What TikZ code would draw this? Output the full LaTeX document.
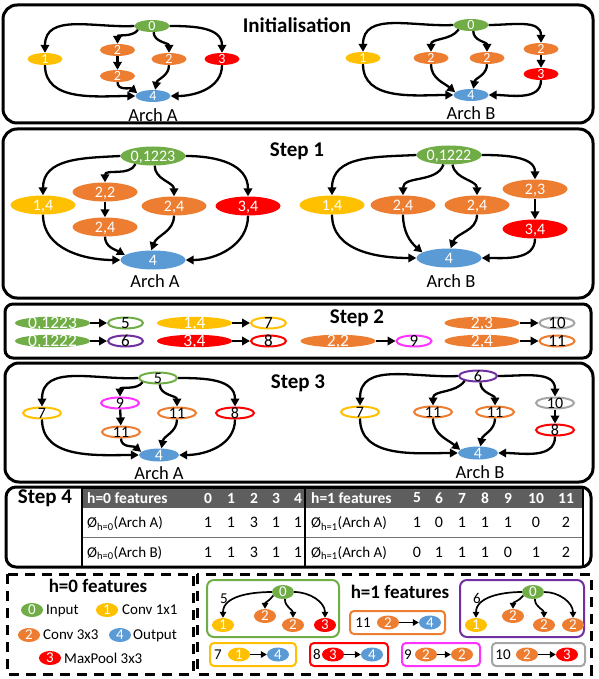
\documentclass[tikz,border=0pt]{standalone}
\usepackage{fontspec}
\setmainfont{Carlito}
\usetikzlibrary{shapes.geometric,arrows.meta}
\newcommand{\myfs}[1]{\fontsize{#1}{#1}\selectfont}
\definecolor{cg}{HTML}{70AD47}
\definecolor{cy}{HTML}{FFC000}
\definecolor{co}{HTML}{ED7D31}
\definecolor{cr}{HTML}{FF0000}
\definecolor{cb}{HTML}{5B9BD5}
\definecolor{cp}{HTML}{7030A0}
\definecolor{cm}{HTML}{FF33FF}
\definecolor{cgr}{HTML}{A5A5A5}
\definecolor{chd}{HTML}{5E5E5E}
\begin{document}
\begin{tikzpicture}[x=1pt,y=1pt,
  panel/.style={draw=black,line width=3pt,rounded corners=14pt},
  title/.style={font=\myfs{21}\bfseries,inner sep=0pt},
  arch/.style={font=\myfs{18.5},inner sep=0pt},
  ar/.style={line width=2.3pt,-{Triangle[length=8pt,width=8.5pt]}},
  sar/.style={line width=1.7pt,-{Triangle[length=6pt,width=6.5pt]}},
  wl/.style={text=white,inner sep=0pt,text depth=0pt},
  bl/.style={text=black,inner sep=0pt,text depth=0pt},
  ini/.style 2 args={ellipse,inner sep=0pt,minimum width=35pt,minimum height=12pt,fill=#1,label={[wl,font=\myfs{14}]center:#2}},
  sa/.style 2 args={ellipse,inner sep=0pt,minimum width=65pt,minimum height=19pt,fill=#1,label={[wl,font=\myfs{16}]center:#2}},
  sbf/.style 2 args={ellipse,inner sep=0pt,minimum width=75pt,minimum height=12.5pt,fill=#1,label={[wl,font=\myfs{17.5}]center:#2}},
  sbo/.style 2 args={ellipse,inner sep=0pt,minimum width=35pt,minimum height=11pt,draw=#1,line width=2pt,fill=white,label={[bl,font=\myfs{17}]center:#2}},
  sco/.style 2 args={ellipse,inner sep=0pt,minimum width=38pt,minimum height=11pt,draw=#1,line width=2pt,fill=white,label={[bl,font=\myfs{16}]center:#2}},
  scf/.style 2 args={ellipse,inner sep=0pt,minimum width=40pt,minimum height=13pt,fill=#1,label={[wl,font=\myfs{16}]center:#2}},
  lg/.style 2 args={ellipse,inner sep=0pt,minimum width=22pt,minimum height=14pt,fill=#1,label={[wl,font=\myfs{15}]center:#2}},
  lt/.style={font=\myfs{15},inner sep=0pt,anchor=west,text depth=0pt},
  num/.style={font=\myfs{15},inner sep=0pt},
  th/.style={font=\myfs{15.5}\bfseries,text=white,inner sep=0pt},
  td/.style={font=\myfs{16},inner sep=0pt},
  tl/.style={font=\myfs{15},inner sep=0pt,anchor=west,text depth=0pt},
  dbox/.style={line width=3pt,dash pattern=on 10pt off 7pt},
  sbox/.style={draw=#1,line width=2pt,rounded corners=4pt}
]
\useasboundingbox (0,0) rectangle (598,-679);

% ---------------- Initialisation ----------------
\draw[panel] (3,-5) rectangle (593,-123);
\node[title] (t0) at (297,-25) {Initialisation};
\node[ini={cg}{0}] (a0) at (152,-26) {};
\node[ini={cy}{1}] (a1) at (45,-59) {};
\node[ini={co}{2}] (a2a) at (117.5,-50) {};
\node[ini={co}{2}] (a2b) at (117.5,-76) {};
\node[ini={co}{2}] (a2c) at (169,-59) {};
\node[ini={cr}{3}] (a3) at (222,-59) {};
\node[ini={cb}{4}] (a4) at (153,-96) {};
\node[arch] (aA) at (153,-115) {Arch A};
\draw[ar] (a0.west) to[out=183,in=90,looseness=1.1] (a1.north);
\draw[ar] (a0.195) to[out=235,in=90] (a2a.north);
\draw[ar] (a0.-75) to[out=270,in=90] (a2c.north);
\draw[ar] (a0.east) to[out=0,in=90,looseness=1.1] (a3.north);
\draw[ar] (a2a) -- (a2b);
\draw[ar] (a1.south) to[out=270,in=180] (a4.west);
\draw[ar] (a2b.south) to[out=270,in=140] (a4.170);
\draw[ar] (a2c.south) to[out=270,in=80] (a4.70);
\draw[ar] (a3.south) to[out=270,in=0] (a4.east);

\node[ini={cg}{0}] (b0) at (471,-25) {};
\node[ini={cy}{1}] (b1) at (363,-58) {};
\node[ini={co}{2}] (b2a) at (431,-58) {};
\node[ini={co}{2}] (b2b) at (487,-58) {};
\node[ini={co}{2}] (b2r) at (541,-49) {};
\node[ini={cr}{3}] (b3) at (541,-74) {};
\node[ini={cb}{4}] (b4) at (471,-95) {};
\node[arch] (bB) at (471,-113) {Arch B};
\draw[ar] (b0.west) to[out=183,in=90,looseness=1.1] (b1.north);
\draw[ar] (b0.200) to[out=235,in=90] (b2a.north);
\draw[ar] (b0.-70) to[out=270,in=90] (b2b.north);
\draw[ar] (b0.east) to[out=0,in=90,looseness=1.1] (b2r.north);
\draw[ar] (b2r) -- (b3);
\draw[ar] (b1.south) to[out=270,in=180] (b4.west);
\draw[ar] (b2a.south) to[out=270,in=140] (b4.170);
\draw[ar] (b2b.south) to[out=270,in=80] (b4.70);
\draw[ar] (b3.south) to[out=270,in=0] (b4.east);

% ---------------- Step 1 ----------------
\draw[panel] (3,-129) rectangle (593,-298);
\node[title] (t1) at (297,-151) {Step 1};
\node[sa={cg}{0,1223}] (c0) at (153,-156) {};
\node[sa={cy}{1,4}] (c1) at (43,-205) {};
\node[sa={co}{2,2}] (c2a) at (105,-192) {};
\node[sa={co}{2,4}] (c2b) at (105,-227) {};
\node[sa={co}{2,4}] (c2c) at (174,-206) {};
\node[sa={cr}{3,4}] (c3) at (248,-206) {};
\node[sa={cb}{4}] (c4) at (153,-260) {};
\node[arch] (cA) at (155,-281) {Arch A};
\draw[ar] (c0.west) to[out=183,in=90,looseness=1.1] (c1.north);
\draw[ar] (c0.205) to[out=245,in=90] (c2a.north);
\draw[ar] (c0.-80) to[out=270,in=90] (c2c.north);
\draw[ar] (c0.east) to[out=0,in=90,looseness=1.1] (c3.north);
\draw[ar] (c2a) -- (c2b);
\draw[ar] (c1.south) to[out=270,in=180] (c4.west);
\draw[ar] (c2b.south) to[out=270,in=150] (c4.170);
\draw[ar] (c2c.south) to[out=270,in=70] (c4.100);
\draw[ar] (c3.south) to[out=270,in=0] (c4.east);

\node[sa={cg}{0,1222}] (d0) at (449,-155) {};
\node[sa={cy}{1,4}] (d1) at (332,-205) {};
\node[sa={co}{2,4}] (d2a) at (403,-205) {};
\node[sa={co}{2,4}] (d2b) at (477,-205) {};
\node[sa={co}{2,3}] (d2r) at (535,-189) {};
\node[sa={cr}{3,4}] (d3) at (535,-229) {};
\node[sa={cb}{4}] (d4) at (449,-258) {};
\node[arch] (dB) at (451,-281) {Arch B};
\draw[ar] (d0.west) to[out=183,in=90,looseness=1.1] (d1.north);
\draw[ar] (d0.240) to[out=250,in=90] (d2a.north);
\draw[ar] (d0.-70) to[out=280,in=90] (d2b.north);
\draw[ar] (d0.east) to[out=0,in=90] (d2r.north);
\draw[ar] (d2r) -- (d3);
\draw[ar] (d1.south) to[out=270,in=180] (d4.west);
\draw[ar] (d2a.south) to[out=270,in=140] (d4.168);
\draw[ar] (d2b.south) to[out=270,in=70] (d4.80);
\draw[ar] (d3.south) to[out=270,in=0] (d4.east);

% ---------------- Step 2 ----------------
\draw[panel,rounded corners=8pt] (5,-304) rectangle (591,-358);
\node[title] (t2) at (357,-318) {Step 2};
\node[sbf={cg}{0,1223}] (e1) at (52.5,-323) {};
\node[sbo={cg}{5}] (e5) at (125.5,-323) {};
\node[sbf={cg}{0,1222}] (e2) at (52.5,-341) {};
\node[sbo={cp}{6}] (e6) at (125.5,-341) {};
\node[sbf={cy}{1,4}] (e3) at (194.5,-323) {};
\node[sbo={cy}{7}] (e7) at (268.5,-323) {};
\node[sbf={cr}{3,4}] (e4) at (194.5,-341) {};
\node[sbo={cr}{8}] (e8) at (268.5,-341) {};
\node[sbf={co}{2,2}] (e9) at (338,-341) {};
\node[sbo={cm}{9}] (e10) at (414,-341) {};
\node[sbf={co}{2,3}] (e11) at (482,-323) {};
\node[sbo={cgr}{10}] (e12) at (557,-323) {};
\node[sbf={co}{2,4}] (e13) at (482,-341) {};
\node[sbo={co}{11}] (e14) at (557,-341) {};
\draw[ar] (e1) -- (e5);
\draw[ar] (e2) -- (e6);
\draw[ar] (e3) -- (e7);
\draw[ar] (e4) -- (e8);
\draw[ar] (e9) -- (e10);
\draw[ar] (e11) -- (e12);
\draw[ar] (e13) -- (e14);

% ---------------- Step 3 ----------------
\draw[panel] (5,-363) rectangle (593,-482);
\node[title] (t3) at (298,-383) {Step 3};
\node[sco={cg}{5}] (f5) at (158,-378) {};
\node[sco={cy}{7}] (f7) at (42,-413) {};
\node[sco={cm}{9}] (f9) at (120,-403) {};
\node[sco={co}{11}] (f11a) at (121,-432) {};
\node[sco={co}{11}] (f11b) at (177,-413) {};
\node[sco={cr}{8}] (f8) at (235,-413) {};
\node[scf={cb}{4}] (f4) at (159,-455) {};
\node[arch] (fA) at (159,-473) {Arch A};
\draw[ar] (f5.west) to[out=183,in=90,looseness=1.1] (f7.north);
\draw[ar] (f5.195) to[out=235,in=90] (f9.north);
\draw[ar] (f5.-75) to[out=270,in=90] (f11b.north);
\draw[ar] (f5.east) to[out=0,in=90,looseness=1.1] (f8.north);
\draw[ar] (f9) -- (f11a);
\draw[ar] (f7.south) to[out=270,in=180] (f4.west);
\draw[ar] (f11a.south) to[out=270,in=140] (f4.170);
\draw[ar] (f11b.south) to[out=270,in=80] (f4.70);
\draw[ar] (f8.south) to[out=270,in=0] (f4.east);

\node[sco={cp}{6}] (g6) at (478,-376) {};
\node[sco={cy}{7}] (g7) at (360,-412) {};
\node[sco={co}{11}] (g11a) at (433,-412) {};
\node[sco={co}{11}] (g11b) at (495,-412) {};
\node[sco={cgr}{10}] (g10) at (555,-403) {};
\node[sco={cr}{8}] (g8) at (555,-430) {};
\node[scf={cb}{4}] (g4) at (478,-453) {};
\node[arch] (gB) at (480,-472) {Arch B};
\draw[ar] (g6.west) to[out=183,in=90,looseness=1.1] (g7.north);
\draw[ar] (g6.200) to[out=235,in=90] (g11a.north);
\draw[ar] (g6.-70) to[out=270,in=90] (g11b.north);
\draw[ar] (g6.east) to[out=0,in=90,looseness=1.1] (g10.north);
\draw[ar] (g10) -- (g8);
\draw[ar] (g7.south) to[out=270,in=180] (g4.west);
\draw[ar] (g11a.south) to[out=270,in=140] (g4.170);
\draw[ar] (g11b.south) to[out=270,in=80] (g4.70);
\draw[ar] (g8.south) to[out=270,in=0] (g4.east);

% ---------------- Step 4 ----------------
\fill[chd] (82,-488) rectangle (583,-508);
\draw[line width=0.8pt,black!55] (82,-537) -- (583,-537);
\draw[line width=1.2pt] (82,-488) rectangle (305,-567);
\draw[line width=1.2pt] (305,-488) rectangle (583,-567);
\draw[line width=2.2pt] (305,-488) -- (305,-567);
\draw[panel,rounded corners=10pt] (6,-487) rectangle (591,-567);
\node[title] (t4) at (45,-498) {Step 4};
\node[th,anchor=west] (hh0) at (87,-498) {h=0 features};
\node[th,anchor=west] (hh1) at (311,-498) {h=1 features};
\foreach \x/\t [count=\i] in {208/0,231/1,254/2,276/3,298/4}
  \node[th] (ha\i) at (\x,-498) {\t};
\foreach \x/\t [count=\i] in {417/5,439/6,462/7,485/8,508/9,536/10,566/11}
  \node[th] (hb\i) at (\x,-498) {\t};
\node[tl] (ra0) at (87,-522.5) {Ø\textsubscript{h=0}(Arch A)};
\node[tl] (rb0) at (311,-522.5) {Ø\textsubscript{h=1}(Arch A)};
\node[tl] (sa0) at (87,-552) {Ø\textsubscript{h=0}(Arch B)};
\node[tl] (sb0) at (311,-552) {Ø\textsubscript{h=1}(Arch A)};
\foreach \x/\t [count=\i] in {208/1,231/1,254/3,276/1,298/1}
  \node[td] (ra\i) at (\x,-522.5) {\t};
\foreach \x/\t [count=\i] in {417/1,439/0,462/1,485/1,508/1,536/0,566/2}
  \node[td] (rb\i) at (\x,-522.5) {\t};
\foreach \x/\t [count=\i] in {208/1,231/1,254/3,276/1,298/1}
  \node[td] (sa\i) at (\x,-552) {\t};
\foreach \x/\t [count=\i] in {417/0,439/1,462/1,485/1,508/0,536/1,566/2}
  \node[td] (sb\i) at (\x,-552) {\t};

% ---------------- Legend h=0 ----------------
\draw[dbox] (7,-574) rectangle (193,-674);
\node[font=\myfs{19}\bfseries,inner sep=0pt] (lh0) at (98,-586) {h=0 features};
\node[lg={cg}{0}] (l0) at (32,-610) {};
\node[lt] (lt0) at (46,-610) {Input};
\node[lg={cy}{1}] (l1) at (107,-610) {};
\node[lt] (lt1) at (122,-610) {Conv 1x1};
\node[lg={co}{2}] (l2) at (29,-635) {};
\node[lt] (lt2) at (43,-635) {Conv 3x3};
\node[lg={cb}{4}] (l4) at (120,-635) {};
\node[lt] (lt4) at (133,-635) {Output};
\node[lg={cr}{3}] (l3) at (50,-658) {};
\node[lt] (lt3) at (64,-658) {MaxPool 3x3};

% ---------------- Legend h=1 ----------------
\draw[dbox] (197,-574) rectangle (591,-674);
\node[font=\myfs{19}\bfseries,inner sep=0pt] (lh1) at (400,-592) {h=1 features};

\draw[sbox=cg,rounded corners=7pt] (207,-580) rectangle (339,-637);
\node[num] (h5) at (224,-599) {5};
\node[lg={cg}{0}] (h0) at (283,-592) {};
\node[lg={cy}{1}] (h1) at (223,-625) {};
\node[lg={co}{2}] (h2a) at (265,-616) {};
\node[lg={co}{2}] (h2b) at (293,-625) {};
\node[lg={cr}{3}] (h3) at (325,-625) {};
\draw[sar] (h0.west) to[out=180,in=90] (h1.north);
\draw[sar] (h0.200) to[out=235,in=90] (h2a.north);
\draw[sar] (h0.-75) to[out=270,in=90] (h2b.north);
\draw[sar] (h0.east) to[out=0,in=90] (h3.north);

\draw[sbox=cp,rounded corners=7pt] (460,-580) rectangle (584,-637);
\node[num] (i6) at (477,-598) {6};
\node[lg={cg}{0}] (i0) at (533,-592) {};
\node[lg={cy}{1}] (i1) at (476,-625) {};
\node[lg={co}{2}] (i2a) at (513,-616) {};
\node[lg={co}{2}] (i2b) at (544,-625) {};
\node[lg={co}{2}] (i2c) at (573,-625) {};
\draw[sar] (i0.west) to[out=180,in=90] (i1.north);
\draw[sar] (i0.200) to[out=235,in=90] (i2a.north);
\draw[sar] (i0.-75) to[out=270,in=90] (i2b.north);
\draw[sar] (i0.east) to[out=0,in=90] (i2c.north);

\draw[sbox=co] (350,-611) rectangle (445,-634);
\node[num] (j11) at (363,-622.5) {11};
\node[lg={co}{2}] (j2) at (388,-622.5) {};
\node[lg={cb}{4}] (j4) at (430,-622.5) {};
\draw[sar] (j2) -- (j4);

\draw[sbox=cy] (210,-643) rectangle (296,-666);
\node[num] (k7) at (218,-654.5) {7};
\node[lg={cy}{1}] (k1) at (239,-654.5) {};
\node[lg={cb}{4}] (k4) at (278,-654.5) {};
\draw[sar] (k1) -- (k4);

\draw[sbox=cr] (310,-643) rectangle (388,-666);
\node[num] (m8) at (317,-654.5) {8};
\node[lg={cr}{3}] (m3) at (333,-654.5) {};
\node[lg={cb}{4}] (m4) at (372,-654.5) {};
\draw[sar] (m3) -- (m4);

\draw[sbox=cm] (402,-643) rectangle (480,-666);
\node[num] (p9) at (408,-654.5) {9};
\node[lg={co}{2}] (p2a) at (426,-654.5) {};
\node[lg={co}{2}] (p2b) at (462,-654.5) {};
\draw[sar] (p2a) -- (p2b);

\draw[sbox=cgr] (492,-643) rectangle (585,-666);
\node[num] (q10) at (503,-654.5) {10};
\node[lg={co}{2}] (q2) at (527,-654.5) {};
\node[lg={cr}{3}] (q3) at (567,-654.5) {};
\draw[sar] (q2) -- (q3);
\end{tikzpicture}
\end{document}
